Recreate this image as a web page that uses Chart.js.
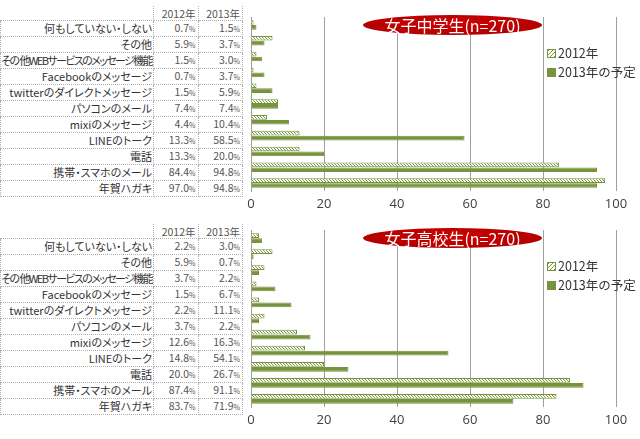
<!DOCTYPE html>
<html>
<head>
<meta charset="utf-8">
<script src="https://cdn.jsdelivr.net/npm/chart.js@4"></script>
<style>
body { margin:0; background:#fff; font-family:"Noto Sans CJK JP","Noto Sans",sans-serif; }
.panel { position:absolute; left:0; width:640px; height:218px; }
table { position:absolute; left:0; top:6px; border-collapse:collapse; table-layout:fixed; width:243px; font-size:11px; color:#333; font-feature-settings:"palt"; }
td { height:14.4px; padding:0 2px; border:1px dotted #b0b0b0; text-align:right; line-height:13px; white-space:nowrap; overflow:hidden; }
td.lab { width:150px; padding:0 1px 0 0; }
td.v { width:39px; color:#555; font-size:10.5px; }
td.v small { font-size:7px; }
tr.head td { border-top:none; }
tr.head td.lab { border-left:none; border-top:none; }
canvas { position:absolute; left:240px; top:0; }
.title { position:absolute; left:363px; width:179px; height:20px; border-radius:50%; background:radial-gradient(ellipse at 50% 40%, #d00000, #a80000); color:#fff; font-size:16px; line-height:20px; text-align:center; }
.legend { position:absolute; left:547px; font-size:12.5px; color:#333; }
.legend div { height:19px; line-height:19px; }
.sw { display:inline-block; width:7px; height:7px; margin-right:2px; border:1px solid #77933c; vertical-align:0; }
.sw.h { background:repeating-linear-gradient(135deg, #77933c 0 1px, #fff 1px 3px); }
.sw.s { background:#77933c; }
</style>
</head>
<body>
<div class="panel" id="p0" style="top:0"></div>
<div class="panel" id="p1" style="top:218px"></div>
<script>
var categories = ["何もしていない・しない", "その他", "その 他WEBサービスのメッセージ機能", "Facebookのメッセージ",
  "twitterのダイレクトメッセージ", "パソコンのメール", "mixiのメッセージ", "LINEのトーク", "電話",
  "携帯・スマホのメール", "年賀ハガキ"];
var seriesNames = ["2012年", "2013年の予定"];
var xTicks = [0, 20, 40, 60, 80, 100];

var titles = ["女子中学生(n=270)", "女子高校生(n=270)"];
var middle2012 = [0.7, 5.9, 1.5, 0.7, 1.5, 7.4, 4.4, 13.3, 13.3, 84.4, 97.0];
var middle2013 = [1.5, 3.7, 3.0, 3.7, 5.9, 7.4, 10.4, 58.5, 20.0, 94.8, 94.8];
var high2012 = [2.2, 5.9, 3.7, 1.5, 2.2, 3.7, 12.6, 14.8, 20.0, 87.4, 83.7];
var high2013 = [3.0, 0.7, 2.2, 6.7, 11.1, 2.2, 16.3, 54.1, 26.7, 91.1, 71.9];

var green = "#77933c";

function hatch() {
  var c = document.createElement("canvas");
  c.width = 3; c.height = 3;
  var g = c.getContext("2d");
  g.fillStyle = "#fff";
  g.fillRect(0, 0, 3, 3);
  g.fillStyle = green;
  g.fillRect(0, 0, 1, 1);
  g.fillRect(1, 1, 1, 1);
  g.fillRect(2, 2, 1, 1);
  return g.createPattern(c, "repeat");
}

function buildPanel(el, title, d2012, d2013, top, bottom) {
  var html = '<table><tr class="head"><td class="lab"></td><td class="v">' + seriesNames[0] +
    '</td><td class="v">2013年</td></tr>';
  for (var i = 0; i < categories.length; i++) {
    html += '<tr><td class="lab"><span>' + categories[i] + '</span></td><td class="v">' + d2012[i].toFixed(1) +
      '<small>%</small></td><td class="v">' + d2013[i].toFixed(1) + '<small>%</small></td></tr>';
  }
  html += '</table>';
  html += '<canvas width="400" height="218"></canvas>';
  html += '<div class="title" style="top:' + (top - 2) + 'px">' + title + '</div>';
  html += '<div class="legend" style="top:' + (top + 26) + 'px"><div><span class="sw h"></span>' + seriesNames[0] +
    '</div><div><span class="sw s"></span>' + seriesNames[1] + '</div></div>';
  el.innerHTML = html;

  // squeeze labels that are too long for the column
  el.querySelectorAll("td.lab span").forEach(function(sp) {
    var ls = 0;
    while (sp.offsetWidth > 151 && ls > -2) {
      ls -= 0.1;
      sp.style.letterSpacing = ls + "px";
    }
  });

  new Chart(el.querySelector("canvas"), {
    type: "bar",
    data: {
      labels: categories,
      datasets: [{
        label: seriesNames[0],
        data: d2012,
        backgroundColor: hatch(),
        borderColor: green,
        borderWidth: 1,
        categoryPercentage: 0.62,
        barPercentage: 0.95
      }, {
        label: seriesNames[1],
        data: d2013,
        backgroundColor: green,
        borderColor: green,
        borderWidth: 1,
        categoryPercentage: 0.62,
        barPercentage: 0.95
      }]
    },
    options: {
      indexAxis: "y",
      responsive: false,
      animation: false,
      layout: { padding: { left: 11, right: 24, top: top, bottom: 0 } },
      plugins: { legend: { display: false }, tooltip: { enabled: false } },
      scales: {
        x: {
          min: 0, max: 100,
          afterBuildTicks: function(s) { s.ticks = xTicks.map(function(v) { return { value: v }; }); },
          afterFit: function(s) { s.height = 218 - bottom; },
          ticks: { color: "#404040", font: { size: 13, family: "'Open Sans', sans-serif" }, padding: 5 },
          grid: { color: "#a0a0a0", drawTicks: false },
          border: { display: false }
        },
        y: {
          afterFit: function(s) { s.width = 0; },
          ticks: { display: false },
          grid: { display: false, drawTicks: false },
          border: { display: true, color: "#a0a0a0" }
        }
      }
    }
  });
}

buildPanel(document.getElementById("p0"), titles[0], middle2012, middle2013, 17, 191);
buildPanel(document.getElementById("p1"), titles[1], high2012, high2013, 12, 189);
</script>
</body>
</html>
